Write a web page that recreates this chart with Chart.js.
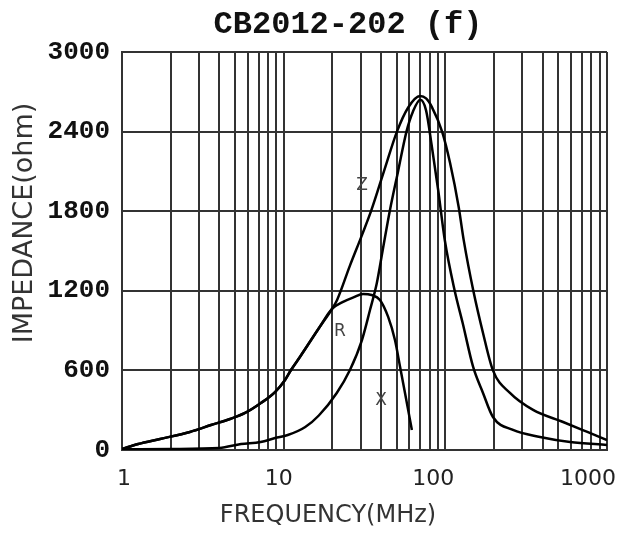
<!DOCTYPE html>
<html>
<head>
<meta charset="utf-8">
<script src="https://cdn.jsdelivr.net/npm/chart.js@4.4.1/dist/chart.umd.min.js"></script>
<style>
  html, body { margin: 0; padding: 0; background: #fff; }
  #wrap { width: 643px; height: 542px; }
</style>
</head>
<body>
<div id="wrap"><canvas id="impedance-chart" width="643" height="542"></canvas></div>
<script>
// CB2012-202 (f) impedance vs frequency

const chartTitle = 'CB2012-202 (f)';
const xAxisTitle = 'FREQUENCY(MHz)';
const yAxisTitle = 'IMPEDANCE(ohm)';

const xTickLabels = [1, 10, 100, 1000];
const yTicks = [0, 600, 1200, 1800, 2400, 3000];

// Z curve
const zFreq = [1, 1.26, 1.72, 2.63, 3.55, 4.66, 5.77, 7.23, 8.84, 10.2, 11.1, 12.6, 16.7, 19.9, 21.4, 25.7, 30.5, 34.7, 41.7, 50.2, 58.8, 69.7, 76, 82.6, 95.5, 107, 121, 130, 149, 171, 197, 251, 349, 535, 756, 1000];
const zVals = [8, 45, 83, 136, 188, 234, 279, 354, 437, 528, 603, 701, 927, 1063, 1131, 1390, 1620, 1800, 2100, 2400, 2580, 2668, 2650, 2585, 2400, 2163, 1830, 1580, 1200, 882, 600, 430, 302, 211, 136, 75];

// R curve
const rFreq = [1, 2, 4, 5.45, 7.2, 8.84, 10.6, 13.6, 16.5, 21.3, 25.7, 30.5, 34.2, 37.7, 41, 45.3, 51, 57.5, 63, 70, 76, 82.6, 90.3, 99.2, 114, 128, 148.6, 171, 197, 262, 385, 591, 1000];
const rVals = [5, 8, 15, 45, 60, 90, 113, 173, 260, 430, 603, 829, 1055, 1259, 1508, 1800, 2100, 2400, 2550, 2640, 2560, 2284, 1960, 1583, 1206, 957, 626, 430, 249, 151, 98, 60, 38];

// X curve
const xFreq = [1, 1.26, 1.72, 2.63, 3.55, 4.66, 5.77, 7.23, 8.84, 10.2, 11.1, 12.6, 16.7, 19.9, 23.3, 27, 31, 35, 39.4, 44.3, 48.8, 52.5, 56.3, 62.1];
const xVals = [8, 45, 83, 136, 188, 234, 279, 354, 437, 528, 603, 701, 927, 1063, 1116, 1150, 1176, 1168, 1131, 1003, 829, 626, 430, 151];

// curve name labels (freq, ohm)
const curveLabels = [
    { text: 'Z', f: 30.6, v: 1990 },
    { text: 'R', f: 22.3, v: 889 },
    { text: 'X', f: 40.0, v: 369 }
];

const toPoints = (fs, vs) => fs.map((f, i) => ({ x: f, y: vs[i] }));

// grid lines at 1..9 of every decade
const gridFreqs = [];
[1, 10, 100].forEach(d => { for (let m = 1; m < 10; m++) gridFreqs.push(m * d); });
gridFreqs.push(1000);

document.addEventListener('DOMContentLoaded', () => {
    const ctx = document.getElementById('impedance-chart');

    const lineStyle = {
        borderColor: '#000', borderWidth: 2.5, pointRadius: 0,
        fill: false, cubicInterpolationMode: 'monotone'
    };

    const textPlugin = {
        id: 'texts',
        afterDraw: (chart) => {
            const c = chart.ctx;
            const xs = chart.scales.x, ys = chart.scales.y;
            c.save();
            // title
            c.fillStyle = '#111';
            c.font = 'bold 32px "Liberation Mono"';
            c.textAlign = 'center';
            c.textBaseline = 'alphabetic';
            c.fillText(chartTitle, 348, 33);

            // x tick labels
            c.fillStyle = '#222';
            c.font = '22px "DejaVu Sans"';
            c.textAlign = 'right';
            xTickLabels.forEach(v => {
                c.fillText(String(v), xs.getPixelForValue(v) + 9, 485);
            });

            // axis titles
            c.fillStyle = '#333';
            c.font = '24px "DejaVu Sans"';
            c.textAlign = 'center';
            c.textBaseline = 'middle';
            c.fillText(xAxisTitle, 328, 516);
            c.save();
            c.translate(25, 223);
            c.rotate(-Math.PI / 2);
            c.font = '27px "DejaVu Sans"';
            c.fillText(yAxisTitle, 0, 0);
            c.restore();

            // curve labels
            c.fillStyle = '#444';
            c.font = '17px "DejaVu Sans"';
            curveLabels.forEach(l => {
                c.fillText(l.text, xs.getPixelForValue(l.f), ys.getPixelForValue(l.v));
            });
            c.restore();
        }
    };

    new Chart(ctx, {
        type: 'line',
        data: {
            datasets: [
                { label: 'Z', data: toPoints(zFreq, zVals), ...lineStyle },
                { label: 'R', data: toPoints(rFreq, rVals), ...lineStyle },
                { label: 'X', data: toPoints(xFreq, xVals), ...lineStyle }
            ]
        },
        options: {
            responsive: false,
            animation: false,
            layout: { padding: { top: 52, right: 36, left: 0, bottom: 0 } },
            plugins: { legend: { display: false }, tooltip: { enabled: false }, title: { display: false } },
            scales: {
                x: {
                    type: 'logarithmic', min: 1, max: 1000,
                    afterBuildTicks: (scale) => { scale.ticks = gridFreqs.map(v => ({ value: v })); },
                    afterFit: (scale) => { scale.height = 92; },
                    ticks: { display: false },
                    grid: { color: '#333', lineWidth: 2, drawTicks: false, tickLength: 0 },
                    border: { color: '#333', width: 2 }
                },
                y: {
                    min: 0, max: 3000,
                    afterBuildTicks: (scale) => { scale.ticks = yTicks.map(v => ({ value: v })); },
                    afterFit: (scale) => { scale.width = 122; },
                    ticks: {
                        color: '#111', padding: 12,
                        font: { family: 'Liberation Mono', size: 26, weight: 'bold' },
                        callback: (v) => String(v)
                    },
                    grid: { color: '#333', lineWidth: 2, drawTicks: false, tickLength: 0 },
                    border: { color: '#333', width: 2 }
                }
            }
        },
        plugins: [textPlugin]
    });
});
</script>
</body>
</html>
